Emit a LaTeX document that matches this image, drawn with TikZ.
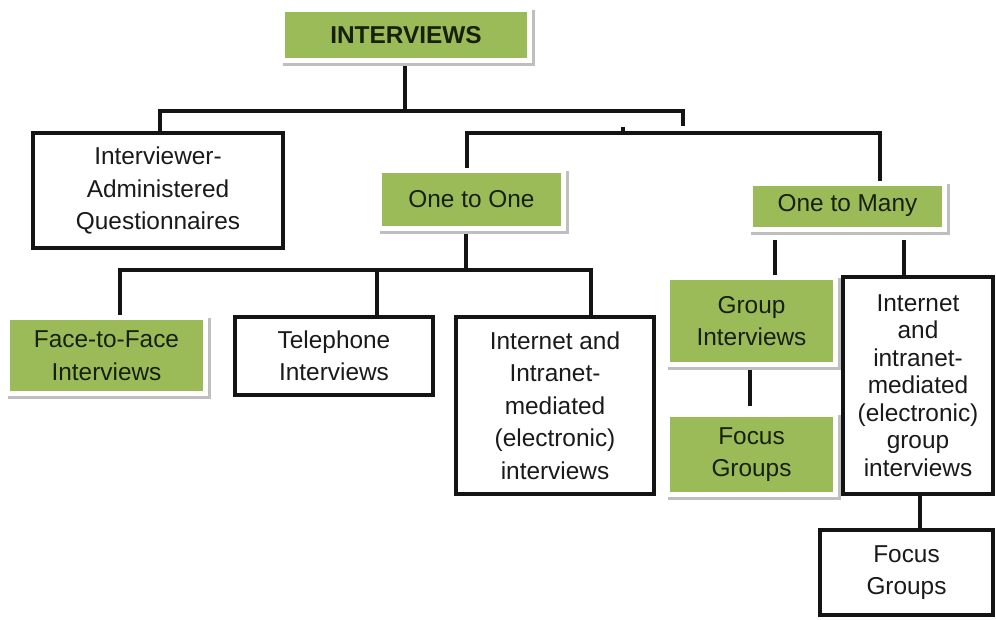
\documentclass[tikz,border=0pt]{standalone}
\usepackage{fontspec}
\setmainfont{Liberation Sans}
\usetikzlibrary{shadows,backgrounds}
\definecolor{boxgreen}{HTML}{9BBB59}
\definecolor{greentext}{HTML}{17200C}
\definecolor{inktext}{HTML}{1A1A1A}
\definecolor{rulecol}{HTML}{141414}
\begin{document}
\begin{tikzpicture}[x=1pt,y=-1pt,
  boxtext/.style={font=\fontsize{24.4}{32.5}\selectfont, align=center, inner sep=0pt},
  greenbox/.style={boxtext, fill=boxgreen, draw=white, line width=5pt, text=greentext,
    general shadow={shadow xshift=2.5pt, shadow yshift=-3pt, fill=black!25, draw=black!25, line width=5pt}},
  whitebox/.style={boxtext, fill=white, draw=rulecol, line width=3.2pt, text=inktext},
  link/.style={draw=rulecol, line width=3.2pt}
]
\useasboundingbox (0,0) rectangle (996,619);

% --- boxes ---
\node[greenbox, minimum width=247pt, minimum height=51pt] (root) at (406,35) {\textbf{INTERVIEWS}};
\node[whitebox, minimum width=250pt, minimum height=115pt] (iaq) at (158,190.5)
  {Interviewer-\\Administered\\Questionnaires};
\node[greenbox, minimum width=184pt, minimum height=58pt] (oto) at (471.5,199.5) {One to One};
\node[greenbox, minimum width=194pt, minimum height=46pt] (otm) at (847.5,206) {One to Many};

\node[greenbox, minimum width=198pt, minimum height=76pt] (f2f) at (106.5,355.5)
  {Face-to-Face\\Interviews};
\node[whitebox, minimum width=198pt, minimum height=78pt] (tel) at (334,356)
  {Telephone\\Interviews};
\node[whitebox, minimum width=198pt, minimum height=177pt] (ioi) at (555,405.5)
  {Internet and\\Intranet-\\mediated\\(electronic)\\interviews};

\node[greenbox, minimum width=168pt, minimum height=87pt] (grp) at (751.5,321)
  {Group\\Interviews};
\node[greenbox, minimum width=168pt, minimum height=80pt] (fgg) at (751.5,454.5)
  {Focus\\Groups};
\node[whitebox, minimum width=150pt, minimum height=217pt,
  font=\fontsize{24.4}{27.5}\selectfont] (iog) at (918,385.5)
  {Internet\\and\\intranet-\\mediated\\(electronic)\\group\\interviews};
\node[whitebox, minimum width=173pt, minimum height=85pt] (fgw) at (906.5,572.5)
  {Focus\\Groups};

% --- junction points of the connector lines ---
\coordinate (j0)  at (405,111);
\coordinate (j0w) at (160,111);
\coordinate (j0e) at (683,111);
\coordinate (j0d) at (683,126);
\coordinate (j1w) at (467,133);
\coordinate (j1e) at (880,133);
\coordinate (j1t) at (623,127);
\coordinate (j2)  at (466,270);
\coordinate (j2w) at (120,270);
\coordinate (j2m) at (377,270);
\coordinate (j2e) at (591,270);
\coordinate (k1) at (775,0);
\coordinate (k2) at (904,0);
\coordinate (k3) at (750,0);
\coordinate (k4) at (920,0);

% --- connectors ---
\begin{scope}[on background layer]
  \draw[link] (j0 |- root.center) -- (j0);
  \draw[link] (iaq.north -| j0w) -- (j0w) -- (j0e) -- (j0d);
  \draw[link] (j1t) -- (j1t |- j1w);
  \draw[link] (oto.north -| j1w) -- (j1w) -- (j1e) -- (otm.north -| j1e);

  \draw[link] (oto.south -| j2) -- (j2);
  \draw[link] (f2f.north -| j2w) -- (j2w) -- (j2e) -- (ioi.north -| j2e);
  \draw[link] (j2m) -- (tel.north -| j2m);

  \draw[link, shorten <=8pt] (otm.south -| k1) -- (grp.north -| k1);
  \draw[link, shorten <=8pt] (otm.south -| k2) -- (iog.north -| k2);
  \draw[link, shorten >=6pt] (grp.south -| k3) -- (fgg.north -| k3);
  \draw[link] (iog.south -| k4) -- (fgw.north -| k4);
\end{scope}
\end{tikzpicture}
\end{document}
